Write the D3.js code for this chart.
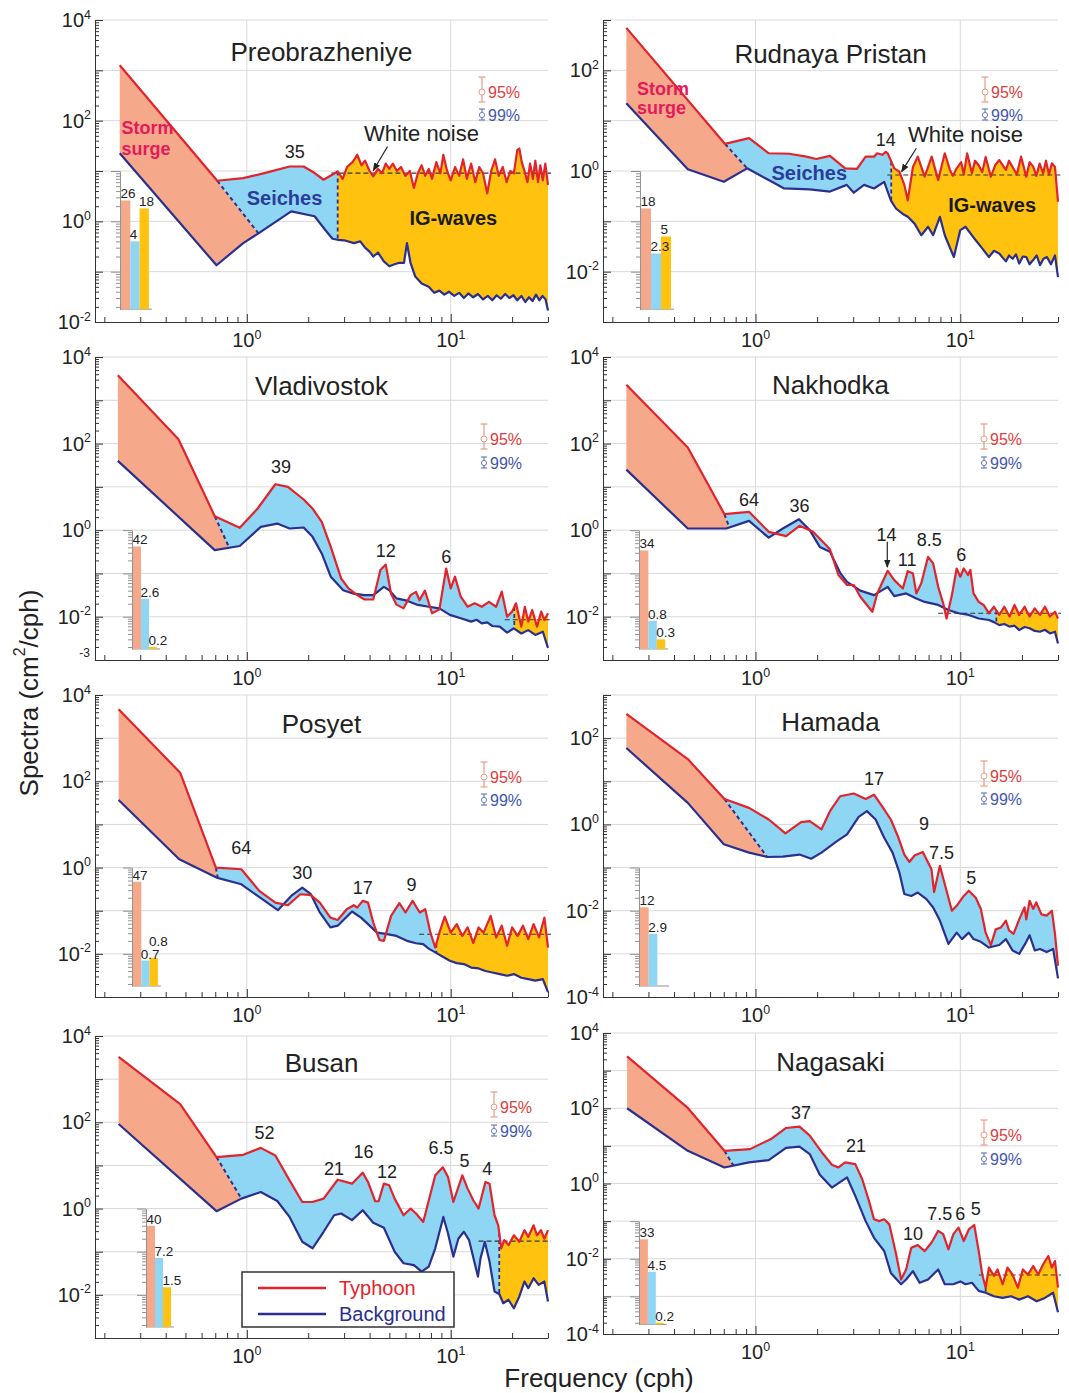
<!DOCTYPE html>
<html>
<head>
<meta charset="utf-8">
<script src="https://cdn.jsdelivr.net/npm/d3@7"></script>
<style>
  body { margin: 0; background: #fff; }
  svg { font-family: "Liberation Sans", Arial, Helvetica, sans-serif; }
</style>
</head>
<body>
<svg id="chart" width="1069" height="1393"></svg>
<script>
// ---- data: [frequency (cph), spectrum (cm^2/cph)] ----
const stations = ["Preobrazheniye", "Rudnaya Pristan", "Vladivostok", "Nakhodka", "Posyet", "Hamada", "Busan", "Nagasaki"];

const preoTy = [[0.238,1260],[0.716,6.4],[0.96,7.2],[1.22,9.1],[1.62,12.3],[1.9,12.3],[2.15,9.1],[2.38,6.7],[2.79,9.8],[2.95,7.0],[3.1,12],[3.3,15],[3.48,21],[3.65,13],[3.8,16],[4.0,10],[4.17,7.8],[4.4,11],[4.6,9],[4.8,14],[5.0,11],[5.2,14],[5.45,10],[5.7,12],[6.0,8],[6.3,10],[6.6,4.6],[6.9,9],[7.2,13],[7.5,8],[7.8,11],[8.1,7],[8.5,15],[8.9,9],[9.2,21],[9.6,10],[10.0,6.5],[10.5,12],[11,8],[11.5,17],[12,7],[12.6,14],[13.2,6],[13.8,12],[14.4,9],[15.1,3.6],[15.8,10],[16.5,17],[17.2,8],[18,12],[18.8,6],[19.6,10],[20.4,9],[21.2,26],[21.7,28],[22.3,15],[23,10],[23.8,6],[24.5,14],[25.3,7],[26,16],[26.8,6],[27.5,13],[28.3,6.5],[29.1,14],[30,5.3]];
const preoBg = [[0.238,22.5],[0.71,0.134],[0.96,0.37],[1.15,0.59],[1.65,1.58],[2.15,1.26],[2.42,0.68],[2.63,0.45],[2.79,0.43],[3.0,0.42],[3.35,0.37],[3.6,0.4],[3.8,0.3],[4.0,0.25],[4.17,0.2],[4.4,0.24],[4.7,0.16],[5.0,0.128],[5.3,0.14],[5.6,0.15],[5.9,0.15],[6.1,0.37],[6.35,0.15],[6.7,0.08],[7.2,0.058],[7.8,0.05],[8.3,0.038],[8.8,0.042],[9.3,0.035],[9.8,0.04],[10.4,0.033],[11,0.038],[11.6,0.03],[12.2,0.037],[12.9,0.031],[13.6,0.036],[14.4,0.028],[15.2,0.033],[16,0.027],[16.8,0.034],[17.6,0.029],[18.5,0.036],[19.4,0.03],[20.3,0.034],[21.2,0.027],[22.2,0.033],[23.2,0.025],[24.2,0.031],[25.2,0.026],[26.2,0.035],[27.2,0.027],[28.2,0.033],[29.2,0.028],[30,0.017]];

const rudTy = [[0.234,698],[0.71,3.45],[0.93,4.5],[1.16,2.25],[1.46,2.2],[1.77,1.93],[1.98,1.73],[2.31,2.0],[2.74,1.13],[3.13,1.1],[3.45,1.93],[3.79,1.93],[3.93,2.25],[4.16,2.1],[4.33,2.4],[4.42,2.25],[4.76,1.13],[5.04,0.97],[5.33,0.53],[5.54,0.26],[5.87,1.2],[6.2,1.93],[6.7,0.77],[7.25,1.93],[7.8,0.66],[8.4,2.25],[8.9,1.05],[9.2,0.8],[9.6,1.13],[10.1,1.5],[10.4,0.85],[10.8,2.25],[11.4,0.9],[11.8,1.6],[12.3,1.3],[12.8,0.95],[13.3,1.9],[14.1,0.77],[14.8,1.3],[15.5,1.65],[16.7,1.05],[17.3,1.6],[18,1.2],[18.9,0.85],[19.8,1.93],[21,0.77],[21.8,1.5],[22.7,1.22],[23.5,0.8],[24.4,1.4],[25.4,0.9],[26.2,1.6],[27.1,0.85],[28,1.42],[29,1.2],[30,0.245]];
const rudBg = [[0.234,22.3],[0.467,1.08],[0.70,0.61],[0.91,1.13],[1.16,0.66],[1.38,0.45],[1.84,0.43],[2.31,0.39],[2.79,0.53],[3.02,0.37],[3.39,0.53],[3.79,0.45],[4.25,0.61],[4.58,0.26],[4.85,0.18],[5.24,0.14],[5.54,0.123],[5.98,0.09],[6.45,0.053],[6.96,0.078],[7.37,0.053],[7.95,0.123],[8.4,0.053],[9.3,0.0195],[10.0,0.067],[10.6,0.078],[11.9,0.042],[12.8,0.029],[13.8,0.0195],[14.6,0.026],[15.5,0.023],[16.1,0.019],[16.7,0.016],[17.3,0.021],[18,0.018],[18.7,0.022],[19.4,0.0145],[20.2,0.02],[21,0.0195],[21.8,0.014],[22.7,0.017],[23.6,0.021],[24.5,0.0135],[25.5,0.018],[26.5,0.0195],[27.7,0.014],[29,0.021],[30,0.0078]];

const vladTy = [[0.233,3775],[0.462,126],[0.696,2.1],[0.923,1.13],[1.13,3.16],[1.38,11.5],[1.59,10],[1.9,5.1],[2.1,3.16],[2.33,1.56],[2.58,0.41],[2.9,0.077],[3.15,0.045],[3.48,0.0316],[3.78,0.025],[4.17,0.025],[4.52,0.12],[4.8,0.16],[5.1,0.034],[5.42,0.019],[5.87,0.0156],[6.36,0.0316],[6.76,0.0376],[7.03,0.024],[7.47,0.04],[8.1,0.012],[8.8,0.0148],[9.5,0.13],[10.0,0.045],[10.5,0.084],[11.2,0.029],[12.1,0.017],[13.1,0.0204],[14.2,0.017],[15.4,0.022],[16.7,0.017],[17.8,0.038],[18.9,0.01],[20.0,0.0131],[20.9,0.0204],[22.2,0.0059],[23.1,0.017],[24.0,0.0077],[25.1,0.0142],[26.5,0.0059],[27.8,0.0131],[28.8,0.0084],[30,0.012]];
const vladBg = [[0.233,39.8],[0.696,0.345],[0.923,0.43],[1.17,1.19],[1.41,1.42],[1.62,1.09],[1.9,1.15],[2.1,0.7],[2.33,0.29],[2.58,0.084],[2.97,0.041],[3.34,0.034],[3.78,0.0316],[4.17,0.0316],[4.7,0.049],[5.0,0.041],[5.42,0.0265],[6.1,0.0235],[6.9,0.0187],[7.8,0.017],[8.8,0.0156],[9.9,0.011],[11.2,0.0092],[12.6,0.0077],[13.4,0.0085],[14.2,0.007],[15.1,0.0074],[16,0.0061],[17.4,0.0059],[18.9,0.0043],[20.4,0.0054],[22.2,0.0041],[24,0.0049],[26,0.0038],[28.3,0.0045],[30,0.0019]];

const nakhTy = [[0.234,2290],[0.467,81],[0.705,2.34],[0.93,2.65],[1.16,0.915],[1.41,0.73],[1.64,1.26],[1.91,0.915],[2.31,0.36],[2.54,0.092],[2.8,0.054],[3.02,0.054],[3.25,0.029],[3.72,0.013],[3.93,0.0345],[4.42,0.115],[4.76,0.07],[5.24,0.045],[5.54,0.113],[5.87,0.1],[6.1,0.0345],[6.45,0.059],[6.96,0.242],[7.37,0.17],[7.8,0.049],[8.25,0.0204],[8.57,0.0091],[9.1,0.0316],[9.6,0.13],[10.0,0.084],[10.4,0.13],[10.9,0.092],[11.2,0.12],[11.6,0.0345],[12.3,0.022],[13.0,0.0187],[13.8,0.012],[14.6,0.017],[15.5,0.011],[16.4,0.017],[17.4,0.0101],[18.4,0.0187],[19.4,0.011],[20.6,0.017],[21.8,0.0101],[23.1,0.0156],[24.5,0.011],[25.9,0.017],[27.4,0.0101],[29,0.013],[30,0.0091]];
const nakhBg = [[0.234,25],[0.467,1.09],[0.72,1.09],[0.93,1.64],[1.16,0.67],[1.36,1.09],[1.63,1.79],[1.84,1.0],[2.06,0.41],[2.31,0.316],[2.6,0.1],[2.8,0.064],[3.25,0.04],[3.79,0.0316],[4.42,0.049],[4.76,0.03],[5.44,0.0345],[6.1,0.0265],[6.7,0.022],[7.8,0.0187],[8.75,0.0143],[9.8,0.012],[11.0,0.011],[12.3,0.0091],[13.8,0.0084],[14.6,0.0075],[15.5,0.0064],[16.4,0.0068],[17.4,0.0059],[18.4,0.0062],[19.4,0.0049],[20.6,0.0058],[21.8,0.0054],[23.1,0.0047],[24.5,0.0045],[25.9,0.005],[27.4,0.0041],[29,0.0045],[30,0.0024]];

const posTy = [[0.235,4660],[0.471,158],[0.705,1.0],[0.94,0.915],[1.15,0.288],[1.38,0.154],[1.59,0.134],[1.83,0.241],[2.06,0.229],[2.28,0.154],[2.57,0.069],[2.79,0.061],[3.09,0.108],[3.35,0.134],[3.48,0.118],[3.7,0.169],[3.93,0.154],[4.17,0.053],[4.47,0.021],[4.7,0.02],[5.1,0.076],[5.6,0.15],[6.0,0.091],[6.5,0.169],[7.05,0.091],[7.5,0.108],[7.95,0.031],[8.4,0.014],[8.8,0.031],[9.35,0.073],[10.0,0.031],[10.7,0.049],[11.4,0.026],[12.1,0.041],[12.9,0.018],[13.7,0.041],[14.5,0.031],[15.7,0.076],[16.7,0.024],[17.8,0.045],[18.9,0.0154],[20,0.041],[21.3,0.026],[22.6,0.045],[24,0.022],[25.5,0.049],[27.1,0.024],[28.8,0.069],[30,0.014]];
const posBg = [[0.235,37],[0.466,1.56],[0.71,0.586],[0.94,0.41],[1.13,0.22],[1.42,0.103],[1.65,0.22],[1.87,0.344],[2.06,0.241],[2.28,0.091],[2.57,0.041],[2.79,0.045],[3.28,0.096],[3.63,0.069],[3.93,0.049],[4.35,0.031],[4.8,0.029],[5.42,0.026],[6.1,0.02],[6.76,0.0176],[7.33,0.0168],[7.8,0.0132],[8.4,0.0108],[9.1,0.0087],[9.9,0.0069],[10.7,0.0061],[11.6,0.0058],[12.6,0.0048],[13.7,0.0046],[14.8,0.004],[16,0.0037],[17.4,0.0034],[18.9,0.0031],[20.4,0.0034],[22.2,0.0028],[24,0.0026],[26,0.0024],[28.3,0.0026],[30,0.0013]];

const hamTy = [[0.234,363],[0.467,32.7],[0.705,3.9],[0.93,2.42],[1.16,1.3],[1.4,0.62],[1.67,1.13],[1.84,1.19],[2.1,0.77],[2.31,2.03],[2.59,4.5],[3.02,5.2],[3.45,3.9],[3.79,4.9],[4.09,2.9],[4.58,1.3],[4.95,0.54],[5.33,0.2],[5.64,0.135],[5.98,0.19],[6.56,0.23],[7.23,0.092],[7.45,0.027],[7.95,0.11],[8.4,0.041],[9.1,0.01],[9.6,0.013],[10.4,0.022],[11.0,0.029],[11.9,0.02],[12.6,0.011],[13.3,0.0031],[14.1,0.0016],[14.9,0.0037],[15.8,0.0041],[16.7,0.0059],[17.3,0.0035],[18.2,0.0029],[19.4,0.0063],[20.6,0.012],[21,0.0063],[21.8,0.017],[22.7,0.011],[23.5,0.0155],[24.9,0.0082],[26.4,0.0077],[28,0.01],[29,0.0029],[30,0.00053]];
const hamBg = [[0.234,59],[0.467,3.16],[0.7,0.346],[0.93,0.222],[1.14,0.176],[1.36,0.18],[1.64,0.2],[1.87,0.16],[2.1,0.222],[2.5,0.41],[2.8,0.59],[3.19,1.5],[3.5,2.03],[3.86,1.3],[4.25,0.49],[4.67,0.222],[5.04,0.077],[5.33,0.0244],[5.76,0.022],[6.2,0.0263],[6.83,0.0186],[7.37,0.0119],[7.95,0.0059],[8.75,0.0017],[9.6,0.0031],[10.2,0.0022],[11.0,0.0031],[11.6,0.0022],[12.6,0.0019],[13.8,0.0014],[15.5,0.0016],[16.7,0.0022],[18.0,0.0012],[19.4,0.001],[21,0.0019],[21.8,0.0027],[23.1,0.0012],[24.5,0.0013],[26.4,0.0011],[28.4,0.0013],[30,0.00027]];

const busTy = [[0.235,3270],[0.471,265],[0.71,15.6],[0.96,17.6],[1.17,25.5],[1.38,17.0],[1.62,4.5],[1.87,1.42],[2.1,1.42],[2.38,1.7],[2.79,4.66],[3.28,3.78],[3.7,6.8],[3.93,4.13],[4.26,1.48],[4.43,1.48],[4.7,3.78],[4.99,3.46],[5.31,1.7],[5.87,0.70],[6.36,1.0],[6.76,0.77],[7.33,0.49],[8.4,5.9],[9.15,9.1],[9.7,5.4],[10.3,1.42],[11.4,5.9],[12.1,2.9],[12.9,1.56],[13.7,1.0],[14.8,4.13],[15.5,3.78],[16.4,0.7],[17.1,0.41],[17.7,0.12],[18.3,0.186],[19.2,0.142],[20.4,0.24],[21.7,0.17],[23,0.316],[24,0.22],[25.5,0.41],[26.5,0.24],[27.7,0.316],[28.8,0.2],[30,0.316]];
const busBg = [[0.235,91],[0.71,0.87],[0.94,1.7],[1.17,2.42],[1.41,1.5],[1.62,0.64],[1.87,0.17],[2.1,0.12],[2.38,0.29],[2.68,0.70],[2.9,0.77],[3.28,0.54],[3.7,0.915],[4.17,0.47],[4.7,0.36],[5.31,0.1],[5.87,0.054],[6.6,0.049],[7.2,0.0345],[7.8,0.045],[8.4,0.12],[9.2,0.64],[9.7,0.265],[10.3,0.077],[10.9,0.2],[11.6,0.29],[12.3,0.186],[13.6,0.0265],[14.0,0.07],[14.7,0.17],[15.5,0.059],[16.4,0.012],[17.3,0.0105],[18.1,0.0064],[19.2,0.0077],[20.4,0.0049],[21.7,0.0092],[23,0.0204],[24,0.0143],[25.5,0.0243],[27,0.017],[28.8,0.0204],[30,0.007]];

const nagTy = [[0.236,2390],[0.467,102],[0.705,7.4],[0.94,8.2],[1.19,15.2],[1.41,29.9],[1.64,32.4],[1.84,18.7],[2.14,6.06],[2.36,3.15],[2.54,2.67],[2.74,3.63],[3.07,3.28],[3.32,1.3],[3.58,0.345],[3.79,0.112],[4.01,0.1],[4.25,0.112],[4.5,0.082],[4.86,0.0131],[5.14,0.0028],[5.44,0.0052],[5.76,0.0195],[6.2,0.023],[6.7,0.016],[7.23,0.0267],[7.8,0.055],[8.25,0.045],[8.75,0.0178],[9.25,0.045],[9.8,0.067],[10.4,0.0296],[11.0,0.06],[11.7,0.079],[12.3,0.016],[12.8,0.0038],[13.3,0.0017],[13.8,0.0058],[14.6,0.0035],[15.2,0.0052],[16.1,0.0021],[17.0,0.0058],[18.0,0.0038],[19.1,0.0017],[20.2,0.0052],[21.4,0.0038],[22.7,0.0064],[24.0,0.0038],[25.4,0.0071],[26.9,0.0118],[28,0.0058],[29,0.0087],[30,0.0017]];
const nagBg = [[0.236,100],[0.467,7.4],[0.705,2.67],[0.93,3.63],[1.16,4.19],[1.41,8.8],[1.64,9.5],[1.84,6.06],[2.06,1.7],[2.36,0.78],[2.8,1.45],[3.07,0.47],[3.45,0.1],[3.79,0.036],[4.25,0.0161],[4.58,0.0042],[5.14,0.0021],[5.44,0.0028],[5.87,0.0047],[6.33,0.0023],[6.96,0.0028],[7.8,0.0052],[8.4,0.0021],[9.25,0.0021],[10.0,0.0025],[10.6,0.0021],[11.4,0.0023],[12.3,0.0014],[13.3,0.00125],[14.6,0.00101],[16.1,0.00091],[17.7,0.00101],[19.4,0.00082],[21.4,0.00101],[23.6,0.00074],[25.9,0.00091],[28.4,0.00125],[30,0.00038]];

const typhoon = [preoTy, rudTy, vladTy, nakhTy, posTy, hamTy, busTy, nagTy];
const background = [preoBg, rudBg, vladBg, nakhBg, posBg, hamBg, busBg, nagBg];

// band limits: [end of surge on typhoon curve, end of surge on background curve, start of IG band]
const bandEdges = [[0.716,1.14,2.79],[0.71,0.91,4.6],[0.696,0.82,20.5],[0.705,0.745,15],[0.705,0.72,8.5],[0.705,1.14,null],[0.71,0.94,17.3],[0.705,0.78,13.3]];
// white noise level [start freq, level]
const whiteNoise = [[2.6,9.06],[4.4,0.83],[18.4,0.0085],[7.8,0.012],[7.0,0.0285],null,[13.7,0.176],[12.3,0.0037]];
// energy share (%) of surge / seiches / IG waves
const energyShares = [[26,4,18],[18,2.3,5],[42,2.6,0.2],[34,0.8,0.3],[47,0.7,0.8],[12,2.9],[40,7.2,1.5],[33,4.5,0.2]];
// peak periods (min)
const peakLabels = [
  [["35",1.72,24.4]],
  [["14",4.33,4.15]],
  [["39",1.47,29],["12",4.8,0.33],["6",9.5,0.24]],
  [["64",0.93,5.1],["36",1.64,3.65],["14",4.36,0.79],["11",5.5,0.2],["8.5",7.06,0.59],["6",10.1,0.265]],
  [["64",0.94,2.8],["30",1.87,0.73],["17",3.7,0.33],["9",6.43,0.39]],
  [["17",3.79,11.3],["9",6.65,1.04],["7.5",8.1,0.22],["5",11.3,0.057]],
  [["52",1.22,55.7],["21",2.68,8.1],["16",3.74,20.3],["12",4.87,7.0],["6.5",8.96,25],["5",11.7,12.4],["4",15.1,8.4]],
  [["37",1.67,73.9],["21",3.1,10.1],["10",5.87,0.0445],["7.5",7.95,0.152],["6",10,0.158],["5",11.9,0.206]]
];
const yDomains = [[1e-2,1e4],[1e-3,1e3],[1e-3,1e4],[1e-3,1e4],[1e-3,1e4],[1e-4,1e3],[1e-3,1e4],[1e-4,1e4]];
const yLabelExps = [[4,2,0,-2],[2,0,-2],[4,2,0,-2],[4,2,0,-2],[4,2,0,-2],[2,0,-2,-4],[4,2,0,-2],[4,2,0,-2,-4]];
const insetTop = [10,1,1,1,1,0.1,1,0.1];
const freqDomain = [0.18, 30];

// ---- layout ----
const boxes = [
  {x0:95, x1:548, y0:20, y1:322}, {x0:603, x1:1058, y0:20, y1:322},
  {x0:95, x1:548, y0:357, y1:660}, {x0:603, x1:1058, y0:357, y1:660},
  {x0:95, x1:548, y0:695, y1:997}, {x0:603, x1:1058, y0:695, y1:997},
  {x0:95, x1:548, y0:1036, y1:1338}, {x0:603, x1:1058, y0:1033, y1:1334}
];
const titleY = [52, 54, 386, 385, 724, 722, 1063, 1062];
const insetDx = [25,37,37,36,37,36,51,36];
const insetBarW = [9.3,10,8,8.4,8.3,8.7,8,7.9];
const errMarks = [[482,92,115],[985,92,115],[484,439,463],[984,439,463],[484,777,800],[984,776,799],[494,1107,1131],[984,1135,1159]];

const cTy = "#e3232b", cBg = "#2b2f8e";
const cSurge = "#f6a98a", cSeiche = "#8fd6f4", cIG = "#ffc30f";
const bandFill = [cSurge, cSeiche, cIG];

const svg = d3.select("#chart");
svg.append("defs").append("marker")
  .attr("id", "arrow").attr("viewBox", "0 0 10 10").attr("refX", 9).attr("refY", 5)
  .attr("markerWidth", 7).attr("markerHeight", 7).attr("orient", "auto")
  .append("path").attr("d", "M0,1 L10,5 L0,9 Z").attr("fill", "#222");

// log-log interpolation
function at(series, f) {
  if (f <= series[0][0]) return series[0][1];
  for (let i = 0; i < series.length - 1; i++) {
    const a = series[i], b = series[i + 1];
    if (f >= a[0] && f <= b[0]) {
      const t = (Math.log(f) - Math.log(a[0])) / (Math.log(b[0]) - Math.log(a[0]));
      return Math.exp(Math.log(a[1]) + t * (Math.log(b[1]) - Math.log(a[1])));
    }
  }
  return series[series.length - 1][1];
}
function seg(series, f0, f1) {
  const pts = [[f0, at(series, f0)]];
  series.forEach(d => { if (d[0] > f0 && d[0] < f1) pts.push(d); });
  pts.push([f1, at(series, f1)]);
  return pts;
}

function supLabel(g, x, y, exp, anchor, size) {
  const t = g.append("text").attr("x", x).attr("y", y).attr("text-anchor", anchor)
    .attr("font-size", size).attr("fill", "#222");
  t.append("tspan").text("10");
  t.append("tspan").attr("dy", -size * 0.42).attr("font-size", size * 0.62).text(exp);
}

function scalesFor(i) {
  const b = boxes[i];
  return {
    x: d3.scaleLog().domain(freqDomain).range([b.x0, b.x1]),
    y: d3.scaleLog().domain(yDomains[i]).range([b.y1, b.y0])
  };
}

stations.forEach((name, i) => drawPanel(i));

function drawPanel(i) {
  const b = boxes[i];
  const ty = typhoon[i], bg = background[i];
  const { x, y } = scalesFor(i);
  const lo = Math.round(Math.log10(yDomains[i][0])), hi = Math.round(Math.log10(yDomains[i][1]));
  const decPx = (b.y1 - b.y0) / (hi - lo);
  const g = svg.append("g").attr("class", "panel");

  // grid
  d3.range(lo + 1, hi + 1).forEach(e => {
    g.append("line").attr("x1", b.x0).attr("x2", b.x1).attr("y1", y(10 ** e)).attr("y2", y(10 ** e))
      .attr("stroke", "#d9d9d9").attr("stroke-width", 1);
  });
  [1, 10].forEach(f => {
    g.append("line").attr("x1", x(f)).attr("x2", x(f)).attr("y1", b.y0).attr("y2", b.y1)
      .attr("stroke", "#d9d9d9").attr("stroke-width", 1);
  });

  // band fills
  const [fr, fb, fig] = bandEdges[i];
  const fs = Math.max(ty[0][0], bg[0][0]);
  const fe = freqDomain[1];
  const area = d3.line().x(d => x(d[0])).y(d => y(d[1]));
  const bands = [
    seg(ty, fs, fr).concat(seg(bg, fs, fb).reverse()),
    seg(ty, fr, fig || fe).concat(seg(bg, fb, fig || fe).reverse())
  ];
  if (fig) bands.push(seg(ty, fig, fe).concat(seg(bg, fig, fe).reverse()));
  bands.forEach((pts, k) => {
    g.append("path").attr("d", area(pts) + "Z").attr("fill", bandFill[k]).attr("stroke", "none");
  });

  // white noise level
  if (whiteNoise[i]) {
    const [wf, wv] = whiteNoise[i];
    g.append("line").attr("x1", x(wf)).attr("x2", b.x1 + 3).attr("y1", y(wv)).attr("y2", y(wv))
      .attr("stroke", "#333").attr("stroke-width", 1.1).attr("stroke-dasharray", "5,3");
  }

  // band boundaries
  g.append("line").attr("x1", x(fr)).attr("y1", y(at(ty, fr))).attr("x2", x(fb)).attr("y2", y(at(bg, fb)))
    .attr("stroke", cBg).attr("stroke-width", 2).attr("stroke-dasharray", "4,3");
  if (fig) {
    g.append("line").attr("x1", x(fig)).attr("x2", x(fig)).attr("y1", y(at(ty, fig))).attr("y2", y(at(bg, fig)))
      .attr("stroke", cBg).attr("stroke-width", 1.8).attr("stroke-dasharray", "4,3");
  }

  // spectra
  const line = d3.line().x(d => x(d[0])).y(d => y(d[1]));
  g.append("path").datum(bg).attr("d", line).attr("fill", "none").attr("stroke", cBg)
    .attr("stroke-width", 2.2).attr("stroke-linejoin", "round");
  g.append("path").datum(ty).attr("d", line).attr("fill", "none").attr("stroke", cTy)
    .attr("stroke-width", 2.2).attr("stroke-linejoin", "round");

  // axes
  const yMinor = [];
  d3.range(lo, hi).forEach(e => d3.range(1, 10).forEach(k => yMinor.push(k * 10 ** e)));
  yMinor.push(10 ** hi);
  const yAx = g.append("g").attr("transform", `translate(${b.x0},0)`)
    .call(d3.axisRight(y).tickValues(yMinor).tickSize(4).tickSizeOuter(0).tickFormat(""));
  yAx.selectAll(".tick line").attr("x2", d => Math.abs(Math.log10(d) - Math.round(Math.log10(d))) < 1e-6 ? 8 : 4);
  const xMinor = [0.2,0.3,0.4,0.5,0.6,0.7,0.8,0.9,1,2,3,4,5,6,7,8,9,10,20,30];
  const xAx = g.append("g").attr("transform", `translate(0,${b.y1})`)
    .call(d3.axisTop(x).tickValues(xMinor).tickSize(5).tickSizeOuter(0).tickFormat(""));
  xAx.selectAll(".tick line").attr("y2", d => (d === 1 || d === 10) ? -8 : -5);
  [yAx, xAx].forEach(a => {
    a.selectAll("path,line").attr("stroke", "#333").attr("stroke-width", 1);
  });

  yLabelExps[i].forEach(e => supLabel(g, b.x0 - 4, y(10 ** e) + 7, String(e), "end", 20));
  [0, 1].forEach(e => supLabel(g, x(10 ** e), b.y1 + 25, String(e), "middle", 20));
  if (i === 2) {
    g.append("text").attr("x", b.x0 - 5).attr("y", b.y1 - 3).attr("text-anchor", "end")
      .attr("font-size", 12).attr("fill", "#222").text("-3");
  }

  // title
  g.append("text").attr("x", (b.x0 + b.x1) / 2).attr("y", titleY[i]).attr("text-anchor", "middle")
    .attr("dominant-baseline", "central").attr("font-size", 26).attr("fill", "#222").text(stations[i]);

  // inset: energy share bars
  const iTop = y(insetTop[i]);
  const iH = 2.745 * decPx;
  const yi = d3.scaleLog().domain([0.18, 100]).range([iTop + iH, iTop]);
  const ix = b.x0 + insetDx[i];
  const bw = insetBarW[i];
  const shares = energyShares[i];
  g.append("line").attr("x1", ix).attr("x2", ix + 1 + 3 * bw + 3).attr("y1", iTop + iH).attr("y2", iTop + iH)
    .attr("stroke", "#777").attr("stroke-width", 0.8);
  shares.forEach((v, k) => {
    g.append("rect").attr("x", ix + 1 + k * bw).attr("y", yi(v)).attr("width", bw)
      .attr("height", iTop + iH - yi(v)).attr("fill", bandFill[k]);
  });
  let prevLab = null;
  shares.forEach((v, k) => {
    let ly = yi(v) - 2;
    if (prevLab !== null && Math.abs(ly - prevLab) < 11) ly = prevLab - 13;
    prevLab = ly;
    g.append("text").attr("x", ix + 0.5 + k * bw).attr("y", ly).attr("text-anchor", "start")
      .attr("font-size", 13.5).attr("fill", "#222").text(v);
  });
  const iMinor = [];
  [-1, 0, 1].forEach(e => d3.range(1, 10).forEach(k => { const v = k * 10 ** e; if (v >= 0.2) iMinor.push(v); }));
  iMinor.push(100);
  const iAx = g.append("g").attr("transform", `translate(${ix},0)`)
    .call(d3.axisLeft(yi).tickValues(iMinor).tickSize(4).tickSizeOuter(0).tickFormat(""));
  iAx.selectAll(".tick line").attr("x2", d => [1, 10, 100].includes(d) ? -9 : -4);
  iAx.selectAll("path,line").attr("stroke", "#777").attr("stroke-width", 0.8);

  // confidence marks
  const [ex, e95, e99] = errMarks[i];
  g.append("line").attr("x1", ex).attr("x2", ex).attr("y1", e95 - 15).attr("y2", e95 + 10).attr("stroke", "#ec9a86").attr("stroke-width", 1.2);
  [e95 - 15, e95 + 10].forEach(yy => g.append("line").attr("x1", ex - 3.5).attr("x2", ex + 3.5).attr("y1", yy).attr("y2", yy).attr("stroke", "#ec9a86").attr("stroke-width", 1.2));
  g.append("circle").attr("cx", ex).attr("cy", e95).attr("r", 3).attr("fill", "#fff").attr("stroke", "#ec9a86").attr("stroke-width", 1);
  g.append("text").attr("x", ex + 6).attr("y", e95).attr("dominant-baseline", "central").attr("font-size", 16).attr("fill", "#dd3d3d").text("95%");
  g.append("line").attr("x1", ex).attr("x2", ex).attr("y1", e99 - 6).attr("y2", e99 + 5).attr("stroke", "#6b7fc2").attr("stroke-width", 1.2);
  [e99 - 6, e99 + 5].forEach(yy => g.append("line").attr("x1", ex - 3).attr("x2", ex + 3).attr("y1", yy).attr("y2", yy).attr("stroke", "#6b7fc2").attr("stroke-width", 1.2));
  g.append("circle").attr("cx", ex).attr("cy", e99).attr("r", 2.6).attr("fill", "#fff").attr("stroke", "#6b7fc2").attr("stroke-width", 1);
  g.append("text").attr("x", ex + 6).attr("y", e99).attr("dominant-baseline", "central").attr("font-size", 16).attr("fill", "#3f55b0").text("99%");

  // peak period labels
  peakLabels[i].forEach(([t, f, v]) => {
    g.append("text").attr("x", x(f)).attr("y", y(v)).attr("text-anchor", "middle")
      .attr("dominant-baseline", "central").attr("font-size", 18).attr("fill", "#222").text(t);
  });
}

// ---- panel-specific annotations ----
const regionText = [
  { panel: 0, storm: [0.243, 70, 27], seiches: [1.53, 2.9], ig: [10.3, 1.16], noise: [7.19, 56], arrow: [4.9, 30.6, 4.17, 10.2] },
  { panel: 1, storm: [0.264, 43.5, 17.9], seiches: [1.83, 0.9], ig: [14.3, 0.21], noise: [10.6, 5.2], arrow: [6.1, 2.83, 5.17, 0.97] }
];
regionText.forEach(r => {
  const { x, y } = scalesFor(r.panel);
  const g = svg.append("g");
  ["Storm", "surge"].forEach((t, k) => {
    g.append("text").attr("x", x(r.storm[0])).attr("y", y(r.storm[k + 1])).attr("dominant-baseline", "central")
      .attr("font-size", 18).attr("font-weight", "bold").attr("fill", "#e5195c").text(t);
  });
  g.append("text").attr("x", x(r.seiches[0])).attr("y", y(r.seiches[1])).attr("text-anchor", "middle")
    .attr("dominant-baseline", "central").attr("font-size", 20).attr("font-weight", "bold").attr("fill", "#2b3c9a").text("Seiches");
  g.append("text").attr("x", x(r.ig[0])).attr("y", y(r.ig[1])).attr("text-anchor", "middle")
    .attr("dominant-baseline", "central").attr("font-size", 20).attr("font-weight", "bold").attr("fill", "#1a1a1a").text("IG-waves");
  g.append("text").attr("x", x(r.noise[0])).attr("y", y(r.noise[1])).attr("text-anchor", "middle")
    .attr("dominant-baseline", "central").attr("font-size", 22).attr("fill", "#222").text("White noise");
  g.append("line").attr("x1", x(r.arrow[0])).attr("y1", y(r.arrow[1])).attr("x2", x(r.arrow[2])).attr("y2", y(r.arrow[3]))
    .attr("stroke", "#222").attr("stroke-width", 1.2).attr("marker-end", "url(#arrow)");
});
{
  // Nakhodka: arrow under the 14-min label
  const { x, y } = scalesFor(3);
  svg.append("line").attr("x1", x(4.4)).attr("y1", y(0.54)).attr("x2", x(4.4)).attr("y2", y(0.14))
    .attr("stroke", "#222").attr("stroke-width", 1.2).attr("marker-end", "url(#arrow)");
}

// legend
const leg = svg.append("g");
leg.append("rect").attr("x", 242).attr("y", 1272).attr("width", 212).attr("height", 55)
  .attr("fill", "#fff").attr("stroke", "#333").attr("stroke-width", 1.5);
[["Typhoon", cTy, 1288], ["Background", cBg, 1314]].forEach(([t, c, yy]) => {
  leg.append("line").attr("x1", 258).attr("x2", 326).attr("y1", yy).attr("y2", yy).attr("stroke", c).attr("stroke-width", 2.5);
  leg.append("text").attr("x", 339).attr("y", yy).attr("dominant-baseline", "central").attr("font-size", 20).attr("fill", c).text(t);
});

// axis titles
svg.append("text").attr("transform", "translate(29,693) rotate(-90)").attr("text-anchor", "middle")
  .attr("dominant-baseline", "central").attr("font-size", 26).attr("fill", "#222")
  .html('Spectra (cm<tspan dy="-10" font-size="16">2</tspan><tspan dy="10">/cph)</tspan>');
svg.append("text").attr("x", 599).attr("y", 1378).attr("text-anchor", "middle")
  .attr("dominant-baseline", "central").attr("font-size", 26).attr("fill", "#222").text("Frequency (cph)");
</script>
</body>
</html>
